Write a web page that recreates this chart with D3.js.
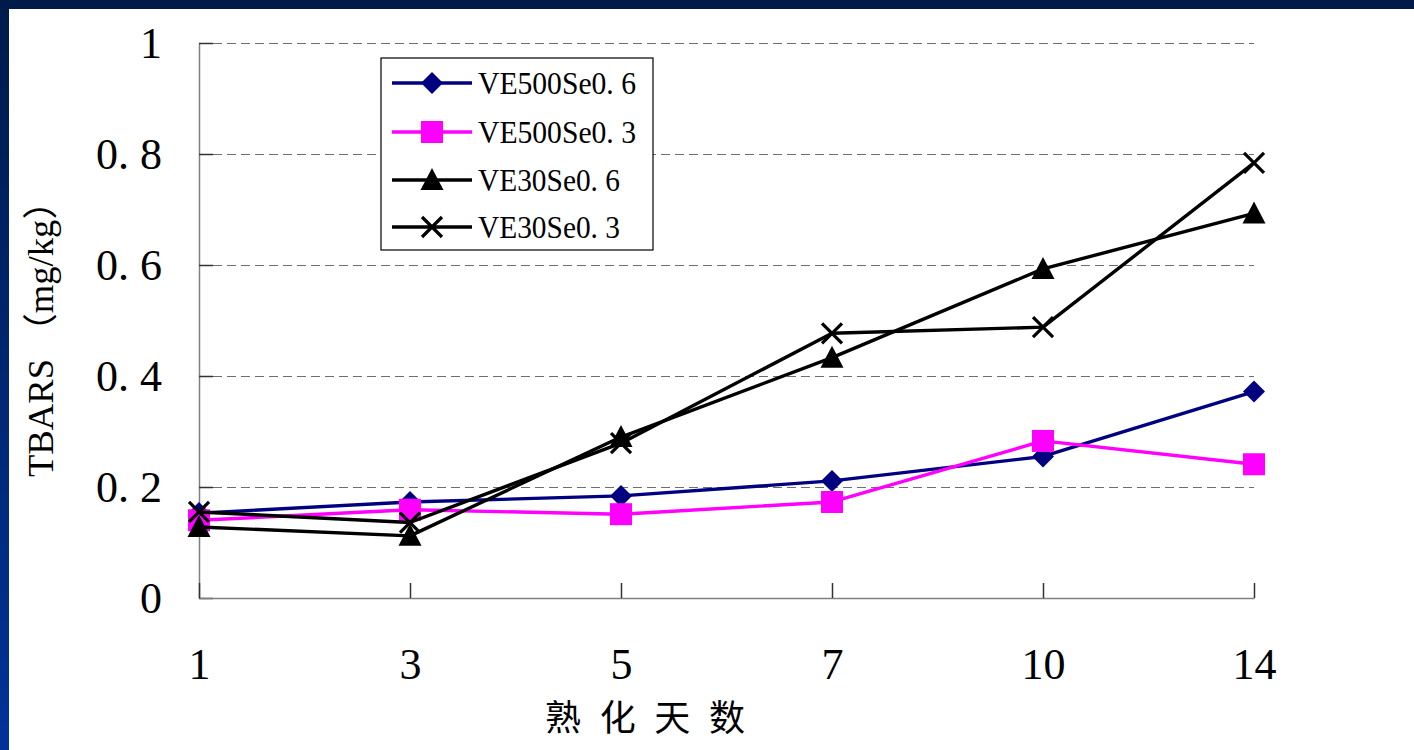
<!DOCTYPE html>
<html>
<head>
<meta charset="utf-8">
<script src="https://cdn.jsdelivr.net/npm/d3@7"></script>
<style>
  html, body { margin: 0; padding: 0; background: #fff; }
  svg { display: block; }
</style>
</head>
<body>
<svg id="chart" width="1414" height="750"></svg>
<script>
// ---- data ----
const categories = ["1", "3", "5", "7", "10", "14"];
const seriesNames = ["VE500Se0. 6", "VE500Se0. 3", "VE30Se0. 6", "VE30Se0. 3"];
const ve500se06 = [0.153, 0.173, 0.184, 0.211, 0.255, 0.372];
const ve500se03 = [0.140, 0.159, 0.151, 0.173, 0.283, 0.241];
const ve30se06  = [0.128, 0.112, 0.290, 0.433, 0.593, 0.693];
const ve30se03  = [0.155, 0.136, 0.279, 0.477, 0.488, 0.784];
const yTicks = [0, 0.2, 0.4, 0.6, 0.8, 1];
const yTickLabels = ["0", "0. 2", "0. 4", "0. 6", "0. 8", "1"];
const xTitle = "熟 化 天 数";
const yTitle = "TBARS （mg/kg）";

const seriesValues = [ve500se06, ve500se03, ve30se06, ve30se03];
const seriesColors = ["#000080", "#FF00FF", "#000000", "#000000"];
const seriesMarkers = ["diamond", "square", "triangle", "cross"];

const svg = d3.select("#chart");
const W = 1414, H = 750;

// ---- slide frame ----
const defs = svg.append("defs");
const grad = defs.append("linearGradient").attr("id", "leftbar")
  .attr("x1", 0).attr("y1", 0).attr("x2", 0).attr("y2", 1);
grad.append("stop").attr("offset", "0%").attr("stop-color", "#001a4a");
grad.append("stop").attr("offset", "100%").attr("stop-color", "#003399");
svg.append("rect").attr("x", 0).attr("y", 0).attr("width", W).attr("height", H).attr("fill", "#fff");
svg.append("rect").attr("x", 0).attr("y", 0).attr("width", W).attr("height", 9).attr("fill", "#001a4a");
svg.append("rect").attr("x", 0).attr("y", 0).attr("width", 9).attr("height", H).attr("fill", "url(#leftbar)");

// ---- scales ----
const x = d3.scalePoint().domain(categories).range([199, 1254]);
const y = d3.scaleLinear().domain([0, 1]).range([598, 43]);

const font = "'Liberation Serif', 'DejaVu Serif', 'Noto Sans CJK SC', serif";

// ---- gridlines ----
svg.append("g").selectAll("line").data(yTicks.filter(d => d > 0)).join("line")
  .attr("x1", x.range()[0]).attr("x2", x.range()[1])
  .attr("y1", d => Math.round(y(d)) + 0.5).attr("y2", d => Math.round(y(d)) + 0.5)
  .attr("stroke", "#6e6e6e").attr("stroke-width", 1)
  .attr("stroke-dasharray", "9,5");

// ---- axes ----
const yAxis = d3.axisLeft(y).tickValues(yTicks)
  .tickFormat((d, i) => yTickLabels[i])
  .tickSizeInner(-14).tickSizeOuter(0).tickPadding(37);
const gy = svg.append("g").attr("transform", `translate(${x.range()[0]},0)`).call(yAxis);
gy.select(".domain").attr("stroke", "#808080").attr("stroke-width", 1.5);
gy.selectAll(".tick line").attr("stroke", "#333").attr("stroke-width", 1.5);
gy.selectAll(".tick text").attr("font-family", font).attr("font-size", 44).attr("fill", "#000");

const xAxis = d3.axisBottom(x).tickSizeInner(-15).tickSizeOuter(0).tickPadding(50);
const gx = svg.append("g").attr("transform", `translate(0,${y(0)})`).call(xAxis);
gx.select(".domain").attr("stroke", "#808080").attr("stroke-width", 1.5);
gx.selectAll(".tick line").attr("stroke", "#333").attr("stroke-width", 1.5);
gx.selectAll(".tick text").attr("font-family", font).attr("font-size", 44).attr("fill", "#000");

// ---- titles ----
svg.append("text").attr("x", 645).attr("y", 731)
  .attr("text-anchor", "middle").attr("font-family", "'Noto Sans CJK SC', sans-serif")
  .attr("font-size", 36).attr("fill", "#000")
  .attr("textLength", 200).attr("lengthAdjust", "spacing")
  .text(xTitle);

svg.append("text").attr("transform", "translate(53,330) rotate(-90)")
  .attr("text-anchor", "middle").attr("font-family", font)
  .attr("font-size", 35).attr("fill", "#000")
  .attr("textLength", 294).attr("lengthAdjust", "spacingAndGlyphs")
  .text(yTitle);

// ---- marker helper ----
function drawMarker(g, type, cx, cy, color) {
  if (type === "diamond") {
    g.append("path").attr("d", `M${cx},${cy - 11}L${cx + 11},${cy}L${cx},${cy + 11}L${cx - 11},${cy}Z`)
      .attr("fill", color);
  } else if (type === "square") {
    g.append("rect").attr("x", cx - 11).attr("y", cy - 11).attr("width", 22).attr("height", 22)
      .attr("fill", color);
  } else if (type === "triangle") {
    g.append("path").attr("d", `M${cx},${cy - 12}L${cx + 11.5},${cy + 10}L${cx - 11.5},${cy + 10}Z`)
      .attr("fill", color);
  } else if (type === "cross") {
    g.append("path").attr("d", `M${cx - 10},${cy - 10}L${cx + 10},${cy + 10}M${cx + 10},${cy - 10}L${cx - 10},${cy + 10}`)
      .attr("stroke", color).attr("stroke-width", 3.2).attr("fill", "none");
  }
}

// ---- series ----
const line = d3.line().x((d, i) => x(categories[i])).y(d => y(d));
seriesValues.forEach((vals, s) => {
  const g = svg.append("g");
  g.append("path").datum(vals).attr("d", line)
    .attr("fill", "none").attr("stroke", seriesColors[s]).attr("stroke-width", 3.4)
    .attr("stroke-linejoin", "round");
  vals.forEach((v, i) => drawMarker(g, seriesMarkers[s], x(categories[i]), y(v), seriesColors[s]));
});

// ---- legend ----
const lg = svg.append("g");
lg.append("rect").attr("x", 381).attr("y", 58).attr("width", 272).attr("height", 192)
  .attr("fill", "#fff").attr("stroke", "#000").attr("stroke-width", 1.2);
const rowY = [83, 132, 180, 227];
seriesNames.forEach((name, s) => {
  const ry = rowY[s];
  lg.append("line").attr("x1", 392).attr("x2", 472).attr("y1", ry).attr("y2", ry)
    .attr("stroke", seriesColors[s]).attr("stroke-width", 3.4);
  drawMarker(lg, seriesMarkers[s], 432, ry, seriesColors[s]);
  lg.append("text").attr("x", 478).attr("y", ry + 11)
    .attr("font-family", font).attr("font-size", 31).attr("fill", "#000")
    .attr("textLength", name.length > 10 ? 158 : 142).attr("lengthAdjust", "spacingAndGlyphs")
    .text(name);
});
</script>
</body>
</html>
